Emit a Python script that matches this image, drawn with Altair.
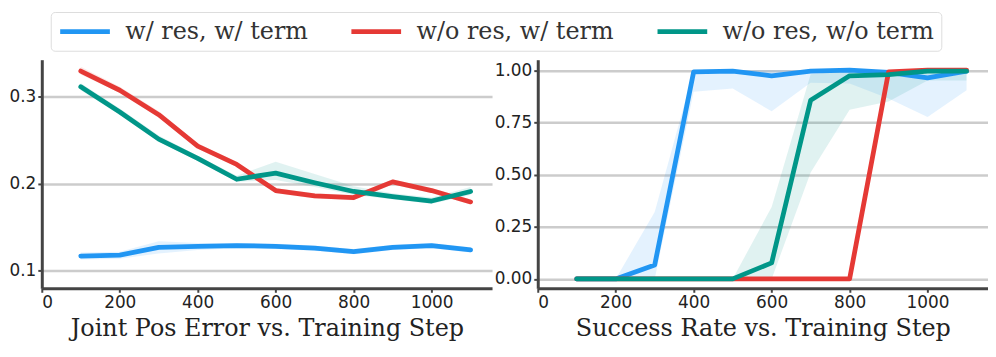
import altair as alt
import pandas as pd

series_names = ["w/ res, w/ term", "w/o res, w/ term", "w/o res, w/o term"]
series_colors = ["#2196F3", "#E53935", "#009688"]
steps = [100, 200, 300, 400, 500, 600, 700, 800, 900, 1000, 1100]

# Joint position error
err_blue = [0.117, 0.118, 0.127, 0.128, 0.129, 0.128, 0.126, 0.122, 0.127, 0.129, 0.124]
err_blue_lo = [0.113, 0.114, 0.120, 0.124, 0.126, 0.125, 0.123, 0.119, 0.124, 0.126, 0.121]
err_blue_hi = [0.121, 0.122, 0.134, 0.132, 0.132, 0.131, 0.129, 0.125, 0.130, 0.132, 0.127]
err_red = [0.329, 0.307, 0.279, 0.243, 0.222, 0.192, 0.186, 0.184, 0.202, 0.192, 0.179]
err_red_lo = [0.325, 0.304, 0.276, 0.240, 0.219, 0.189, 0.183, 0.181, 0.199, 0.189, 0.176]
err_red_hi = [0.334, 0.311, 0.283, 0.246, 0.225, 0.195, 0.189, 0.187, 0.205, 0.195, 0.182]
err_green = [0.311, 0.282, 0.251, 0.229, 0.205, 0.212, 0.201, 0.191, 0.185, 0.180, 0.191]
err_green_lo = [0.307, 0.279, 0.248, 0.226, 0.202, 0.204, 0.196, 0.187, 0.182, 0.177, 0.187]
err_green_hi = [0.315, 0.286, 0.255, 0.232, 0.209, 0.225, 0.211, 0.197, 0.189, 0.184, 0.196]

# Success rate
succ_blue = [0.0, 0.0, 0.067, 0.992, 0.995, 0.973, 0.995, 1.0, 0.989, 0.963, 0.995]
succ_blue_lo = [0.0, 0.0, 0.0, 0.896, 0.912, 0.803, 0.94, 0.936, 0.864, 0.776, 0.904]
succ_blue_hi = [0.0, 0.0, 0.32, 1.0, 1.0, 1.0, 1.0, 1.0, 1.0, 1.0, 1.0]
succ_red = [0.0, 0.0, 0.0, 0.0, 0.0, 0.0, 0.0, 0.0, 0.992, 1.0, 1.0]
succ_red_lo = [0.0, 0.0, 0.0, 0.0, 0.0, 0.0, 0.0, 0.0, 0.98, 0.99, 0.99]
succ_red_hi = [0.0, 0.0, 0.0, 0.0, 0.0, 0.0, 0.0, 0.0, 1.0, 1.0, 1.0]
succ_green = [0.0, 0.0, 0.0, 0.0, 0.0, 0.077, 0.856, 0.973, 0.979, 0.995, 0.995]
succ_green_lo = [0.0, 0.0, 0.0, 0.0, 0.0, 0.0, 0.51, 0.81, 0.85, 0.95, 0.95]
succ_green_hi = [0.0, 0.0, 0.0, 0.0, 0.0, 0.344, 0.98, 1.0, 1.0, 1.0, 1.0]


def frame(vals, los, his):
    rows = []
    for name, v, lo, hi in zip(series_names, vals, los, his):
        for s, a, b, c in zip(steps, v, lo, hi):
            rows.append({"series": name, "step": s, "value": a, "lo": b, "hi": c})
    return pd.DataFrame(rows)


err_df = frame([err_blue, err_red, err_green],
               [err_blue_lo, err_red_lo, err_green_lo],
               [err_blue_hi, err_red_hi, err_green_hi])
succ_df = frame([succ_blue, succ_red, succ_green],
                [succ_blue_lo, succ_red_lo, succ_green_lo],
                [succ_blue_hi, succ_red_hi, succ_green_hi])

color_scale = alt.Scale(domain=series_names, range=series_colors)
xticks = [0, 200, 400, 600, 800, 1000]


def panel(df, title, ydomain, yticks, yfmt):
    x = alt.X("step:Q", scale=alt.Scale(domain=[0, 1155], nice=False),
              axis=alt.Axis(values=xticks, format="d", title=title, grid=False))
    y_axis = alt.Axis(values=yticks, format=yfmt, title=None, grid=True)
    band = alt.Chart(df).mark_area(opacity=0.12).encode(
        x=x,
        y=alt.Y("lo:Q", scale=alt.Scale(domain=ydomain, nice=False, zero=False), axis=y_axis),
        y2="hi:Q",
        fill=alt.Fill("series:N", scale=color_scale, legend=None),
        detail="series:N",
    )
    line = alt.Chart(df).mark_line(strokeWidth=4.8, strokeCap="round", strokeJoin="round").encode(
        x=x,
        y=alt.Y("value:Q", scale=alt.Scale(domain=ydomain, nice=False, zero=False), axis=y_axis),
        color=alt.Color("series:N", scale=color_scale, sort=series_names, legend=None),
    )
    return alt.layer(band, line).properties(width=453, height=230)


left = panel(err_df, "Joint Pos Error vs. Training Step", [0.08, 0.342], [0.1, 0.2, 0.3], ".1f")
right = panel(succ_df, "Success Rate vs. Training Step", [-0.045, 1.05], [0.0, 0.25, 0.5, 0.75, 1.0], ".2f")

panels = alt.hconcat(left, right, spacing=2).resolve_scale(color="independent", fill="independent")

legend_chart = alt.Chart(err_df).mark_point(opacity=0).encode(
    x=alt.value(0),
    y=alt.value(0),
    color=alt.Color(
        "series:N", scale=color_scale, sort=series_names,
        legend=alt.Legend(
            title=None, orient="none", legendX=9, legendY=0, direction="horizontal",
            symbolType="M-1,0H4", symbolSize=400, symbolStrokeWidth=5,
            labelFont="DejaVu Serif", labelFontSize=24, labelColor="#333",
            labelOffset=43, columnPadding=33, padding=7,
            strokeColor="#dddddd", fillColor="white", cornerRadius=4, labelLimit=400,
        ),
    ),
).properties(width=1, height=1)

chart = alt.vconcat(legend_chart, panels, spacing=8).resolve_scale(
    color="independent", fill="independent"
).properties(
    padding={"left": 0, "top": 0, "right": 0, "bottom": 0}
).configure_view(stroke=None).configure_axis(
    labelFont="DejaVu Sans",
    labelFontSize=17,
    labelColor="#222",
    titleFont="DejaVu Serif",
    titleFontSize=24,
    titleFontWeight="normal",
    titleColor="#222",
    titlePadding=6,
    domainColor="#444",
    domainWidth=3,
    tickColor="#444",
    tickWidth=2,
    tickSize=4,
    labelPadding=2,
    gridColor="#cccccc",
    gridWidth=2.5,
)

chart.save("out.html", embed_options={"renderer": "svg", "actions": False})
